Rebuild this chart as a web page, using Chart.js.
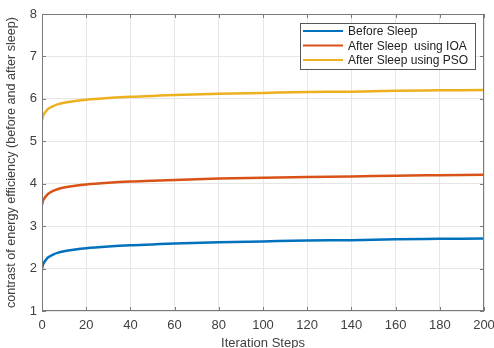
<!DOCTYPE html>
<html>
<head>
<meta charset="utf-8">
<script src="https://cdn.jsdelivr.net/npm/chart.js@4.4.0/dist/chart.umd.min.js"></script>
<style>
  html, body { margin: 0; padding: 0; background: #fff; }
  #wrap { width: 494px; height: 348px; }
</style>
</head>
<body>
<div id="wrap"><canvas id="chart" width="494" height="348"></canvas></div>
<script>
// iteration steps sampled from the curves
const steps = [0, 0.5, 1, 2, 3, 5, 7, 10, 15, 20, 30, 40, 50, 60, 80, 100, 120, 140, 160, 180, 200];
const beforeSleep = [2.0, 2.1, 2.15, 2.22, 2.27, 2.33, 2.37, 2.41, 2.45, 2.48, 2.52, 2.55, 2.57, 2.59, 2.62, 2.64, 2.66, 2.67, 2.69, 2.70, 2.71];
const afterIOA = [3.5, 3.6, 3.65, 3.72, 3.77, 3.83, 3.87, 3.91, 3.95, 3.98, 4.02, 4.05, 4.07, 4.09, 4.12, 4.14, 4.16, 4.17, 4.19, 4.20, 4.21];
const afterPSO = [5.5, 5.6, 5.65, 5.72, 5.77, 5.83, 5.87, 5.91, 5.95, 5.98, 6.02, 6.05, 6.07, 6.09, 6.12, 6.14, 6.16, 6.17, 6.19, 6.20, 6.21];
const seriesNames = ['Before Sleep', 'After Sleep  using IOA', 'After Sleep using PSO'];
const seriesColors = ['#0072BD', '#D95319', '#EDB120'];

const toPoints = (vals) => steps.map((s, i) => ({ x: s, y: vals[i] }));

const textColor = '#404040';
const fontFam = '"Liberation Sans", Arial, sans-serif';

// box, inward ticks and legend like the matlab figure
const framePlugin = {
    id: 'frame',
    afterDraw(chart) {
        const ctx = chart.ctx;
        const a = chart.chartArea;
        const xs = chart.scales.x;
        const ys = chart.scales.y;
        ctx.save();
        ctx.strokeStyle = '#7a7a7a';
        ctx.lineWidth = 1;
        ctx.beginPath();
        xs.ticks.forEach((t) => {
            const px = Math.round(xs.getPixelForValue(t.value)) + 0.5;
            ctx.moveTo(px, a.bottom); ctx.lineTo(px, a.bottom - 4);
            ctx.moveTo(px, a.top); ctx.lineTo(px, a.top + 4);
        });
        ys.ticks.forEach((t) => {
            const py = Math.round(ys.getPixelForValue(t.value)) + 0.5;
            ctx.moveTo(a.left, py); ctx.lineTo(a.left + 4, py);
            ctx.moveTo(a.right, py); ctx.lineTo(a.right - 4, py);
        });
        ctx.stroke();
        ctx.strokeRect(a.left + 0.5, a.top + 0.5, a.right - a.left - 1, a.bottom - a.top - 1);

        // legend
        const lx = 300, ly = 23, lw = 175, lh = 46;
        ctx.fillStyle = '#fff';
        ctx.fillRect(lx, ly, lw, lh);
        ctx.strokeStyle = '#555';
        ctx.strokeRect(lx + 0.5, ly + 0.5, lw, lh);
        ctx.font = '12px ' + fontFam;
        ctx.textBaseline = 'middle';
        seriesNames.forEach((name, i) => {
            const yy = ly + 8 + i * 14.5;
            ctx.strokeStyle = seriesColors[i];
            ctx.lineWidth = 2;
            ctx.beginPath();
            ctx.moveTo(lx + 3, yy); ctx.lineTo(lx + 43, yy);
            ctx.stroke();
            ctx.fillStyle = '#222';
            ctx.fillText(name, lx + 48, yy + 1);
        });
        ctx.restore();
    }
};

new Chart(document.getElementById('chart').getContext('2d'), {
    type: 'line',
    data: {
        datasets: [
            { label: seriesNames[0], data: toPoints(beforeSleep), borderColor: seriesColors[0] },
            { label: seriesNames[1], data: toPoints(afterIOA), borderColor: seriesColors[1] },
            { label: seriesNames[2], data: toPoints(afterPSO), borderColor: seriesColors[2] },
        ],
    },
    options: {
        responsive: false,
        animation: false,
        layout: { padding: { top: 14, right: 0, left: 0, bottom: 0 } },
        elements: {
            line: { borderWidth: 2.5, tension: 0.4, cubicInterpolationMode: 'monotone' },
            point: { radius: 0 },
        },
        plugins: { legend: { display: false }, tooltip: { enabled: false } },
        scales: {
            x: {
                type: 'linear',
                min: 0, max: 200,
                ticks: { stepSize: 20, color: textColor, font: { family: fontFam, size: 13 }, padding: 7, maxRotation: 0 },
                grid: { color: '#e6e6e6', drawTicks: false },
                border: { display: false },
                title: { display: true, text: 'Iteration Steps', color: textColor, font: { family: fontFam, size: 13 }, padding: { top: 0, bottom: -3 } },
                afterFit(scale) {
                    scale.height = 37;
                    scale.paddingRight = 10;
                    scale.paddingLeft = 0;
                },
            },
            y: {
                min: 1, max: 8,
                ticks: { stepSize: 1, color: textColor, font: { family: fontFam, size: 13 }, padding: 5 },
                grid: { color: '#e6e6e6', drawTicks: false },
                border: { display: false },
                title: { display: true, text: 'contrast of energy efficiency (before and after sleep)', color: textColor, font: { family: fontFam, size: 12.6 }, padding: { top: 4, bottom: 0 } },
                afterFit(scale) { scale.width = 42; },
            },
        },
    },
    plugins: [framePlugin],
});
</script>
</body>
</html>
